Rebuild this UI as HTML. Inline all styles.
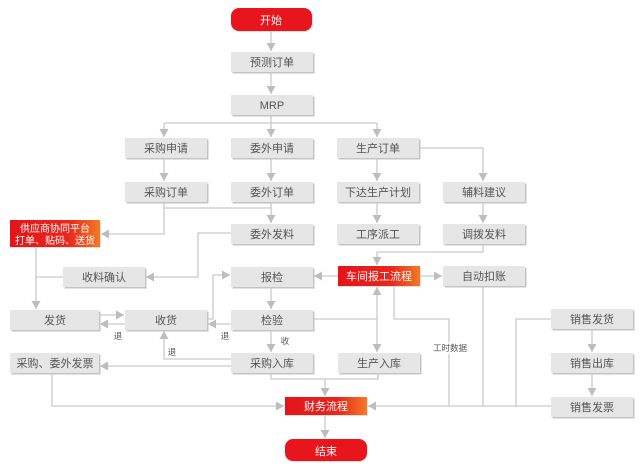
<!DOCTYPE html>
<html><head><meta charset="utf-8"><style>
html,body{margin:0;padding:0;background:#fff;}
svg{display:block;}
text{font-family:"Liberation Sans","Noto Sans CJK SC",sans-serif;}
</style></head><body>
<svg width="642" height="468" viewBox="0 0 642 468" xmlns="http://www.w3.org/2000/svg">
<defs>
<marker id="a" markerUnits="userSpaceOnUse" markerWidth="9" markerHeight="9" refX="8" refY="4.5" orient="auto-start-reverse">
<path d="M0,0 L8,4.5 L0,9 z" fill="#bdbdbd"/>
</marker>
<linearGradient id="g" x1="0" y1="0" x2="1" y2="0">
<stop offset="0" stop-color="#e3141b"/>
<stop offset="0.65" stop-color="#e8271c"/>
<stop offset="1" stop-color="#f37a24"/>
</linearGradient>
</defs>

<g fill="none" stroke="#cacaca" stroke-width="1.3">
<path d="M271,31 V51" marker-end="url(#a)"/>
<path d="M271,72 V94" marker-end="url(#a)"/>
<path d="M271,115 V137" marker-end="url(#a)"/>
<path d="M164,123 H377"/>
<path d="M164,123 V137" marker-end="url(#a)"/>
<path d="M377,123 V137" marker-end="url(#a)"/>
<path d="M164,158 V181" marker-end="url(#a)"/>
<path d="M271,158 V181" marker-end="url(#a)"/>
<path d="M377,158 V181" marker-end="url(#a)"/>
<path d="M377,202 V223" marker-end="url(#a)"/>
<path d="M419,148 H483 V181" marker-end="url(#a)"/>
<path d="M483,202 V223" marker-end="url(#a)"/>
<path d="M483,244 V252 H377 V265" marker-end="url(#a)"/>
<path d="M164,202 V234 H101" marker-end="url(#a)"/>
<path d="M164,208 H271"/>
<path d="M271,202 V223" marker-end="url(#a)"/>
<path d="M231,233 H198 V277 H146" marker-end="url(#a)"/>
<path d="M36,247 V309" marker-end="url(#a)"/>
<path d="M63,277 H36"/>
<path d="M99,315 H124" marker-end="url(#a)"/>
<path d="M125,324 H100" marker-end="url(#a)"/>
<path d="M231,324 H208" marker-end="url(#a)"/>
<path d="M207,319 H213 V275 H230" marker-end="url(#a)"/>
<path d="M271,287 V309" marker-end="url(#a)"/>
<path d="M271,330 V352" marker-end="url(#a)"/>
<path d="M231,359 H164 V331" marker-end="url(#a)"/>
<path d="M231,366 H100" marker-end="url(#a)"/>
<path d="M52,373 V406 H284" marker-end="url(#a)"/>
<path d="M271,373 V379 H378 V373"/>
<path d="M325,379 V396" marker-end="url(#a)"/>
<path d="M325,415 V438" marker-end="url(#a)"/>
<path d="M338,276 H314" marker-end="url(#a)"/>
<path d="M420,276 H442" marker-end="url(#a)"/>
<path d="M377,287 V352" marker-start="url(#a)" marker-end="url(#a)"/>
<path d="M313,319 H377"/>
<path d="M394,286 V319 H449 V406"/>
<path d="M483,286 V406"/>
<path d="M551,319 H516 V406"/>
<path d="M551,406 H368" marker-end="url(#a)"/>
<path d="M592,329 V352" marker-end="url(#a)"/>
<path d="M592,373 V396" marker-end="url(#a)"/>
</g>

<!-- gray boxes -->
<g>
<g fill="#c4c4c4">
<rect x="232.5" y="53.5" width="82" height="20"/>
<rect x="232.5" y="96.5" width="82" height="20"/>
<rect x="126.5" y="139.5" width="82" height="20"/>
<rect x="232.5" y="139.5" width="82" height="20"/>
<rect x="338.5" y="139.5" width="82" height="20"/>
<rect x="126.5" y="183.5" width="82" height="20"/>
<rect x="232.5" y="183.5" width="82" height="20"/>
<rect x="338.5" y="183.5" width="82" height="20"/>
<rect x="444.5" y="183.5" width="82" height="20"/>
<rect x="232.5" y="225.5" width="82" height="20"/>
<rect x="338.5" y="225.5" width="82" height="20"/>
<rect x="444.5" y="225.5" width="82" height="20"/>
<rect x="64.5" y="268.5" width="82" height="20"/>
<rect x="232.5" y="268.5" width="82" height="20"/>
<rect x="444.5" y="267.5" width="82" height="20"/>
<rect x="11.5" y="311.5" width="89" height="20"/>
<rect x="126.5" y="311.5" width="82" height="20"/>
<rect x="232.5" y="311.5" width="82" height="20"/>
<rect x="552.5" y="310.5" width="82" height="20"/>
<rect x="11.5" y="354.5" width="89" height="20"/>
<rect x="232.5" y="354.5" width="82" height="20"/>
<rect x="339.5" y="354.5" width="82" height="20"/>
<rect x="552.5" y="354.5" width="82" height="20"/>
<rect x="552.5" y="398.5" width="82" height="20"/>
</g>
<g fill="#e6e6e6">
<rect x="231" y="52" width="82" height="20"/>
<rect x="231" y="95" width="82" height="20"/>
<rect x="125" y="138" width="82" height="20"/>
<rect x="231" y="138" width="82" height="20"/>
<rect x="337" y="138" width="82" height="20"/>
<rect x="125" y="182" width="82" height="20"/>
<rect x="231" y="182" width="82" height="20"/>
<rect x="337" y="182" width="82" height="20"/>
<rect x="443" y="182" width="82" height="20"/>
<rect x="231" y="224" width="82" height="20"/>
<rect x="337" y="224" width="82" height="20"/>
<rect x="443" y="224" width="82" height="20"/>
<rect x="63" y="267" width="82" height="20"/>
<rect x="231" y="267" width="82" height="20"/>
<rect x="443" y="266" width="82" height="20"/>
<rect x="10" y="310" width="89" height="20"/>
<rect x="125" y="310" width="82" height="20"/>
<rect x="231" y="310" width="82" height="20"/>
<rect x="551" y="309" width="82" height="20"/>
<rect x="10" y="353" width="89" height="20"/>
<rect x="231" y="353" width="82" height="20"/>
<rect x="338" y="353" width="82" height="20"/>
<rect x="551" y="353" width="82" height="20"/>
<rect x="551" y="397" width="82" height="20"/>
</g>
</g>

<!-- red boxes -->
<rect x="232" y="9" width="81" height="23" rx="8" fill="#c9c9c9" opacity="0.6"/>
<rect x="231" y="8" width="81" height="23" rx="8" fill="#e8151d"/>
<rect x="286" y="440" width="82" height="22" rx="8" fill="#c9c9c9" opacity="0.6"/>
<rect x="285" y="439" width="82" height="22" rx="8" fill="#e8151d"/>
<rect x="11" y="221" width="90" height="27" fill="#c9c9c9" opacity="0.6"/>
<rect x="10" y="220" width="90" height="27" fill="url(#g)"/>
<rect x="339" y="267" width="82" height="20" fill="#c9c9c9" opacity="0.6"/>
<rect x="338" y="266" width="82" height="20" fill="url(#g)"/>
<rect x="286" y="398" width="82" height="18" fill="#c9c9c9" opacity="0.6"/>
<rect x="285" y="397" width="82" height="18" fill="url(#g)"/>

<!-- white label bg -->
<rect x="433" y="342" width="34" height="12" fill="#fff"/>

<g font-size="11" fill="#555" text-anchor="middle">
<text x="272" y="66">预测订单</text>
<text x="272" y="109">MRP</text>
<text x="166" y="152">采购申请</text>
<text x="272" y="152">委外申请</text>
<text x="378" y="152">生产订单</text>
<text x="166" y="196">采购订单</text>
<text x="272" y="196">委外订单</text>
<text x="378" y="196">下达生产计划</text>
<text x="484" y="196">辅料建议</text>
<text x="272" y="238">委外发料</text>
<text x="378" y="238">工序派工</text>
<text x="484" y="238">调拨发料</text>
<text x="104" y="281">收料确认</text>
<text x="272" y="281">报检</text>
<text x="484" y="280">自动扣账</text>
<text x="55" y="324">发货</text>
<text x="166" y="324">收货</text>
<text x="272" y="324">检验</text>
<text x="592" y="323">销售发货</text>
<text x="55" y="367">采购、委外发票</text>
<text x="272" y="367">采购入库</text>
<text x="379" y="367">生产入库</text>
<text x="592" y="367">销售出库</text>
<text x="592" y="411">销售发票</text>
</g>
<g font-size="11" fill="#fff" text-anchor="middle">
<text x="271" y="24">开始</text>
<text x="326" y="455">结束</text>
<text x="55" y="232" font-size="10">供应商协同平台</text>
<text x="55" y="244" font-size="10">打单、贴码、送货</text>
<text x="379" y="280">车间报工流程</text>
<text x="326" y="410">财务流程</text>
</g>
<g font-size="8.5" fill="#555" text-anchor="middle">
<text x="118" y="339">退</text>
<text x="225" y="339">退</text>
<text x="172" y="355">退</text>
<text x="285" y="344">收</text>
<text x="450" y="351">工时数据</text>
</g>
</svg>
</body></html>
